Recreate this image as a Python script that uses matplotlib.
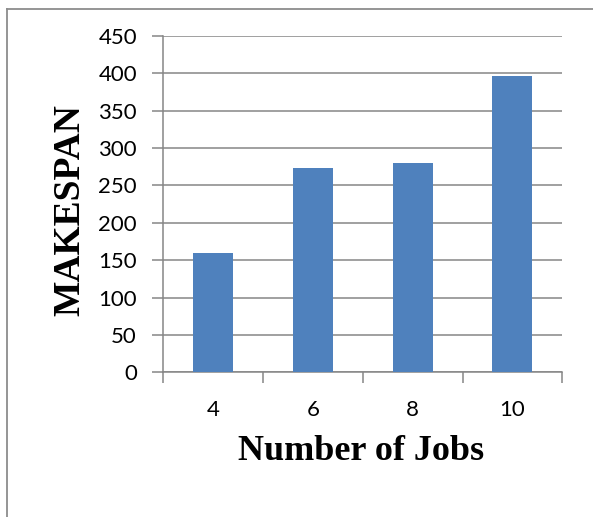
import matplotlib.pyplot as plt
from matplotlib.lines import Line2D

# datos
jobs = ['4', '6', '8', '10']
makespan = [160, 273, 280, 397]
yticks = [0, 50, 100, 150, 200, 250, 300, 350, 400, 450]

fig = plt.figure(figsize=(5.93, 5.17), dpi=100)
ax = fig.add_axes([0.2754, 0.2799, 0.9482 - 0.2754, 0.9304 - 0.2799])

# borde gris del grafico (solo se ve arriba e izquierda)
bx, by = 6.5 / 593, (517 - 8.5) / 517
fig.add_artist(Line2D([bx, 1.05], [by, by], transform=fig.transFigure,
                      color='#8c8c8c', linewidth=1.3))
fig.add_artist(Line2D([bx, bx], [-0.05, by], transform=fig.transFigure,
                      color='#8c8c8c', linewidth=1.3))

pos = list(range(len(jobs)))
ax.bar(pos, makespan, width=0.4, color='#4f81bd', zorder=3)

ax.set_xlim(-0.5, len(jobs) - 0.5)
ax.set_ylim(0, 450)
ax.set_yticks(yticks)
ax.yaxis.grid(True, color='#868686', linewidth=1.1, zorder=0)

ax.set_xticks(pos)
ax.set_xticklabels(jobs)
ax.set_xticks([p - 0.5 for p in pos] + [len(jobs) - 0.5], minor=True)
ax.tick_params(axis='x', which='major', length=0, pad=20, labelsize=16)
ax.tick_params(axis='x', which='minor', length=8, width=1.1, color='#868686')
ax.tick_params(axis='y', length=8, width=1.1, color='#868686', pad=11, labelsize=16)
for lab in ax.get_xticklabels() + ax.get_yticklabels():
    lab.set_family('Lato')

for s in ['top', 'right']:
    ax.spines[s].set_visible(False)
for s in ['left', 'bottom']:
    ax.spines[s].set_color('#868686')
    ax.spines[s].set_linewidth(1.1)

fig.text(70 / 593, (517 - 210) / 517, 'MAKESPAN', rotation=90, ha='center', va='center',
         family='Liberation Serif', weight='bold', fontsize=27)
fig.text(361.5 / 593, (517 - 451) / 517, 'Number of Jobs', ha='center', va='center',
         family='Liberation Serif', weight='bold', fontsize=26)

plt.savefig('out.png', dpi=100)
